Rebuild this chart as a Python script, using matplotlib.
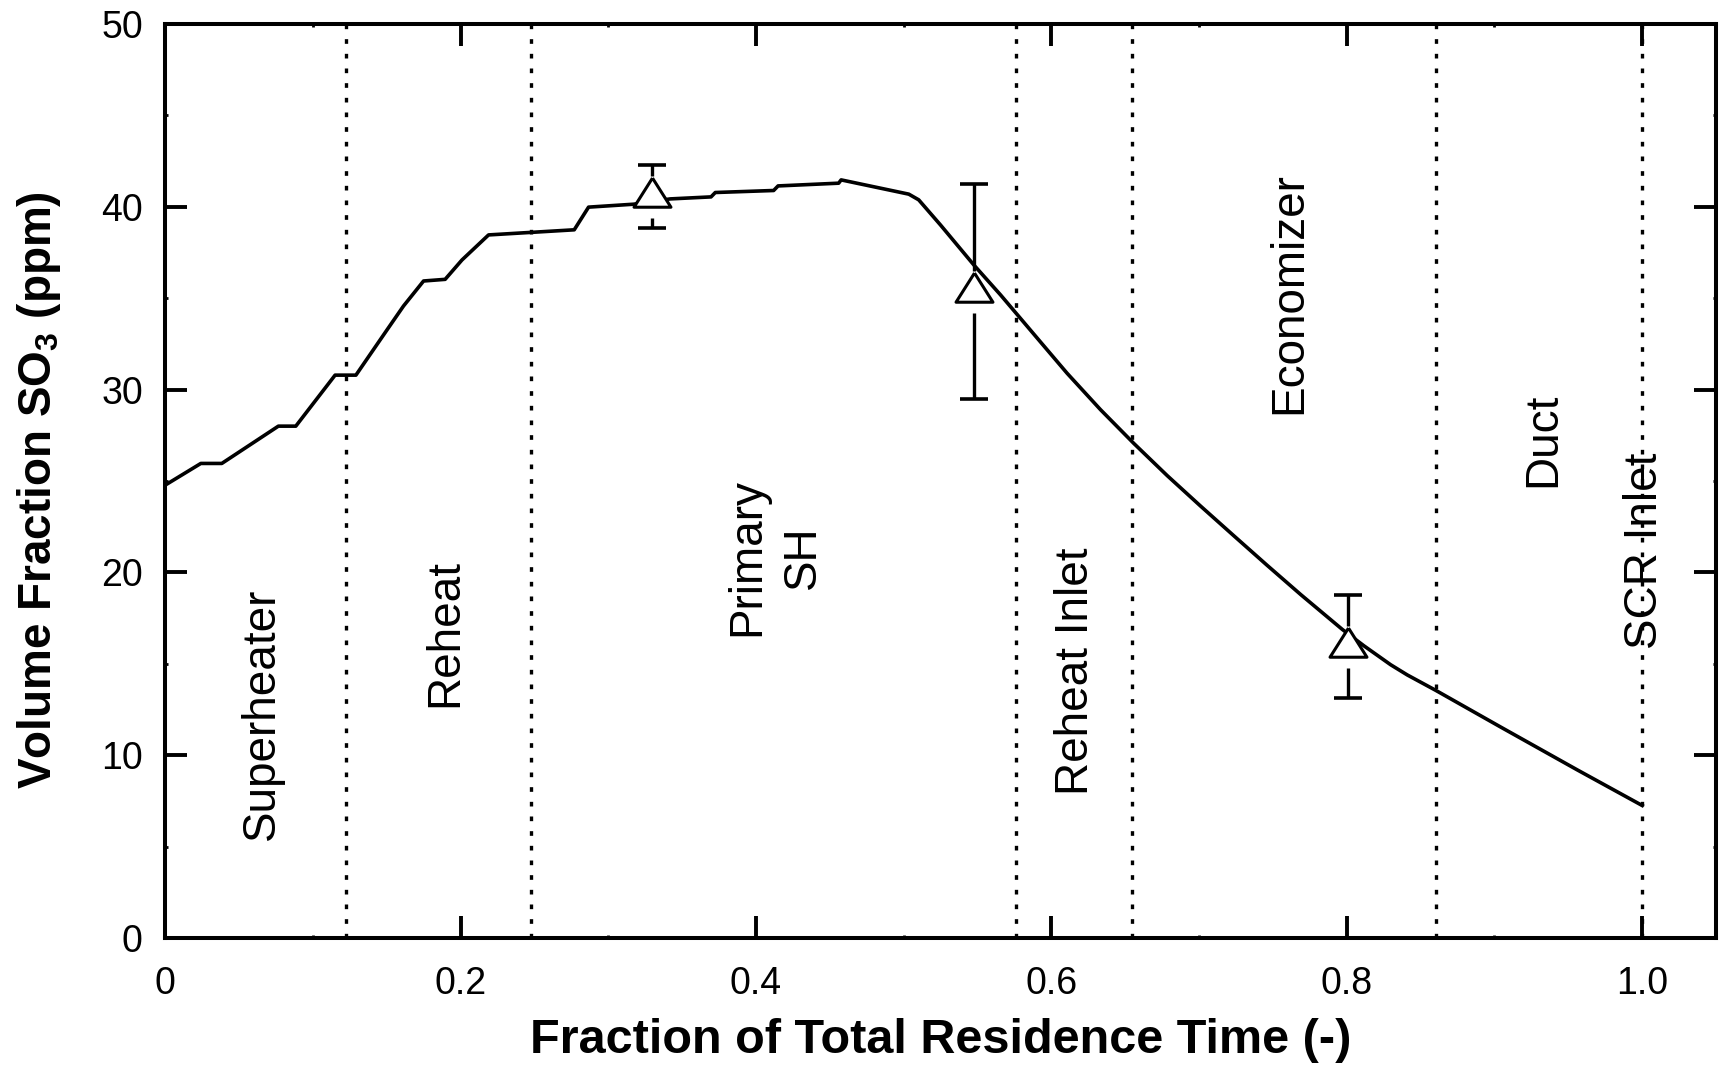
import numpy as np
import matplotlib
matplotlib.use("Agg")
import matplotlib.pyplot as plt

plt.rcParams['font.family'] = ['Liberation Sans', 'DejaVu Sans']
plt.rcParams['mathtext.fontset'] = 'custom'
plt.rcParams['mathtext.bf'] = 'Liberation Sans:bold'
plt.rcParams['mathtext.rm'] = 'Liberation Sans'

# model prediction of SO3 along the flue gas path
time_frac = [0.0, 0.0242, 0.0384, 0.0767, 0.0885, 0.1151, 0.1292, 0.1502, 0.1614,
             0.1750, 0.1896, 0.2010, 0.2190, 0.2770, 0.2867, 0.3172, 0.3420, 0.3696,
             0.3725, 0.4120, 0.4150, 0.4560, 0.4577, 0.5035, 0.5102, 0.5250, 0.5475,
             0.5656, 0.5927, 0.6107, 0.6333, 0.6559, 0.6785, 0.7010, 0.7236, 0.7462,
             0.7688, 0.7970, 0.8117, 0.8297, 0.8410, 0.8602, 0.9040, 0.9560, 1.0000]
so3_model = [24.77, 25.96, 25.96, 28.00, 28.00, 30.79, 30.79, 33.26, 34.57,
             35.94, 36.03, 37.09, 38.46, 38.74, 39.98, 40.14, 40.43, 40.54,
             40.78, 40.89, 41.14, 41.29, 41.47, 40.69, 40.38, 39.00, 36.82,
             35.18, 32.60, 30.89, 28.90, 27.05, 25.29, 23.63, 22.00, 20.38,
             18.79, 16.88, 15.98, 14.95, 14.39, 13.55, 11.55, 9.20, 7.25]

# measurements with error bars
meas_x = [0.3294, 0.5475, 0.8010]
meas_y = [40.55, 35.36, 15.94]
meas_err = [1.71, 5.90, 2.80]

# section boundaries and names
boundaries = [0.1224, 0.2479, 0.5762, 0.6548, 0.8602, 1.0]
sections = ["Superheater", "Reheat", "Primary\nSH", "Reheat Inlet",
            "Economizer", "Duct", "SCR Inlet"]
section_x = [0.0655, 0.190, 0.4128, 0.6168, 0.7608, 0.9331, 1.002]
section_y = [12.27, 16.69, 20.84, 14.59, 35.27, 27.23, 21.2]

fig = plt.figure(figsize=(17.25, 10.74), dpi=100)
ax = fig.add_axes([0.0957, 0.1266, 0.8991, 0.8511])

for b in boundaries:
    ax.axvline(b, color='black', lw=2.4, linestyle=(0, (1.4, 3.0)),
               dash_capstyle='butt', zorder=1)

ax.errorbar(meas_x, meas_y, yerr=meas_err, fmt='none', ecolor='black',
            elinewidth=2.4, capsize=10, capthick=2.6, zorder=2)
# blank out the bar behind each symbol
ax.plot(meas_x, meas_y, 's', color='white', ms=30, mec='none', zorder=3)

ax.plot(time_frac, so3_model, color='black', lw=2.6, zorder=4)

tri = [(0, 1), (-0.95, -0.5), (0.95, -0.5), (0, 1)]
ax.plot(meas_x, meas_y, linestyle='none', marker=tri, ms=28, mfc='white',
        mec='black', mew=2.2, zorder=5)

for name, sx, sy in zip(sections, section_x, section_y):
    ax.text(sx, sy, name, rotation=90, ha='center', va='center',
            fontsize=33, linespacing=1.35, multialignment='center', zorder=6)

ax.set_xlim(0, 1.05)
ax.set_ylim(0, 50)
ax.set_xticks([0, 0.2, 0.4, 0.6, 0.8, 1.0])
ax.set_xticklabels(['0', '0.2', '0.4', '0.6', '0.8', '1.0'])
ax.set_yticks([0, 10, 20, 30, 40, 50])
ax.set_xticks(np.arange(0.1, 1.05, 0.2), minor=True)
ax.set_yticks(np.arange(5, 50, 10), minor=True)

ax.tick_params(which='major', direction='in', length=16, width=2.8,
               top=True, right=True, labelsize=27)
ax.tick_params(axis='x', which='major', pad=20)
ax.tick_params(axis='y', which='major', pad=16)
ax.tick_params(which='minor', direction='in', length=2.5, width=2.0,
               top=True, right=True)
for s in ax.spines.values():
    s.set_linewidth(2.9)

ax.set_xlabel('Fraction of Total Residence Time (-)', fontsize=35,
              fontweight='bold', va='center')
ax.xaxis.set_label_coords(0.5, -0.112)
ax.set_ylabel(r'Volume Fraction SO$_\mathbf{3}$ (ppm)', fontsize=33,
              fontweight='bold', va='center')
ax.yaxis.set_label_coords(-0.0816, 0.49)

fig.savefig('out.png', dpi=100)
